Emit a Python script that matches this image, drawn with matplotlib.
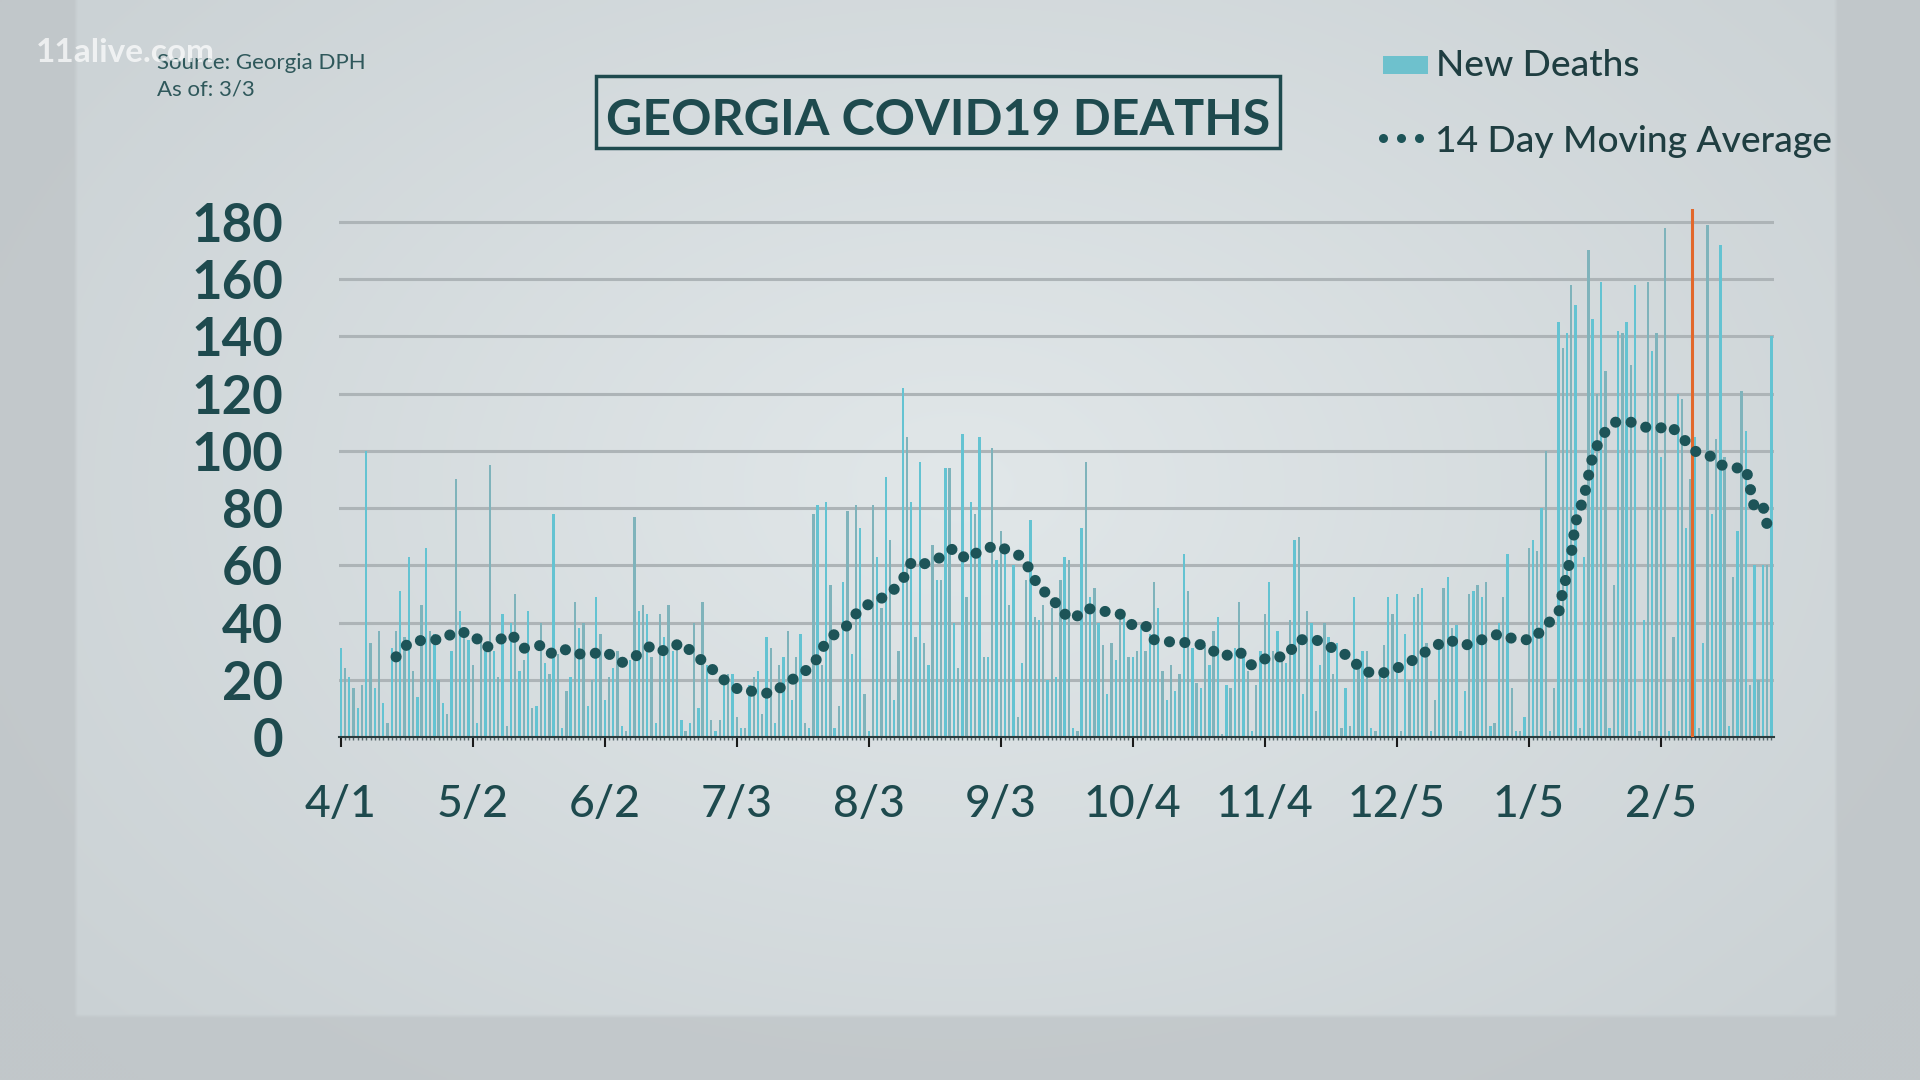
import numpy as np
import matplotlib
matplotlib.use("Agg")
import matplotlib.pyplot as plt
from matplotlib.patches import Rectangle
from matplotlib.lines import Line2D

# ---------------- data ----------------
# daily new deaths, 4/1 (day 0) through 3/2 (day 336)
new_deaths = [
    31, 24, 21, 17, 10, 18, 100, 33, 17, 37, 12, 5, 31, 37, 51, 35, 63, 23, 14, 46,
    66, 37, 36, 20, 12, 8, 30, 90, 44, 35, 34, 25, 5,
    34, 31, 95, 30, 21, 43, 4, 40, 50, 23, 27, 44, 10, 11, 40, 26, 22, 78, 29, 3,
    16, 21, 47, 38, 40, 11, 20, 49, 36, 13, 21, 24, 30, 4,
    2, 27, 77, 44, 46, 43, 28, 5, 43, 35, 46, 30, 31, 6, 2, 5, 40, 10, 47, 25,
    6, 2, 6, 20, 22, 22, 7, 3, 3, 18, 21, 23, 8, 35,
    31, 5, 25, 28, 37, 13, 28, 36, 5, 3, 78, 81, 25, 82, 53, 3, 11, 54, 79, 29,
    81, 73, 15, 2, 81, 63, 45, 91, 69, 13, 30, 122, 105, 82,
    35, 96, 33, 25, 67, 55, 55, 94, 94, 40, 24, 106, 49, 82, 78, 105, 28, 28, 101, 62,
    72, 64, 46, 60, 7, 26, 55, 76, 42, 41, 46, 20, 45, 21,
    55, 63, 62, 3, 2, 73, 96, 49, 52, 40, 32, 15, 33, 27, 44, 43, 28, 28, 30, 39,
    30, 36, 54, 45, 23, 13, 25, 16, 22, 64, 51, 31, 19, 17,
    32, 25, 37, 42, 1, 18, 17, 31, 47, 30, 23, 2, 18, 30, 43, 54, 30, 37, 28, 26,
    41, 69, 70, 15, 44, 40, 9, 25, 40, 35, 22, 33, 3, 17,
    4, 49, 24, 30, 30, 3, 2, 23, 32, 49, 43, 50, 2, 36, 20, 49, 50, 52, 33, 2,
    13, 32, 52, 56, 38, 39, 2, 16, 50, 51, 53, 49, 54, 4,
    5, 40, 49, 64, 17, 2, 2, 7, 66, 69, 65, 80, 100, 2, 17, 145, 136, 141, 158, 151,
    3, 63, 170, 146, 120, 159, 128, 3, 53, 142, 141, 145, 130, 158,
    2, 41, 159, 135, 141, 98, 178, 2, 35, 120, 118, 73, 90, 105, 3, 33, 179, 78, 104, 172,
    98, 4, 56, 72, 121, 107, 18, 60, 20, 60, 60, 140,
]
days = np.arange(len(new_deaths))

# 14 day moving average, read at these days
ma_days = [13, 16, 20, 24, 27, 31, 34, 36, 40, 43, 47, 49, 52, 55, 59, 62, 66, 69, 73, 76,
           80, 83, 87, 90, 94, 98, 101, 105, 108, 111, 113, 116, 119, 122, 125, 129, 132, 134,
           136, 140, 144, 147, 150, 154, 157, 160, 162, 164, 167, 169, 172, 175, 179, 183, 186,
           189, 191, 196, 199, 203, 207, 211, 214, 218, 222, 225, 229, 233, 237, 240, 244, 248,
           252, 256, 260, 264, 268, 272, 276, 280, 283, 286, 287, 288, 289, 290, 292, 293, 294,
           296, 299, 303, 307, 310, 312, 315, 317, 319, 322, 324, 325, 328, 330, 331, 332, 334,
           335, 336]
ma_values = [28, 33, 34, 34, 37, 36, 31, 33, 36, 31, 32, 29, 31, 29, 29, 30, 26, 28, 32, 30,
             33, 29, 24, 20, 16, 16, 15, 19, 22, 25, 31, 36, 39, 45, 47, 50, 55, 61,
             60, 62, 66, 62, 65, 67, 65, 63, 58, 52, 49, 44, 41, 45, 44, 43, 39,
             39, 34, 33, 33, 32, 28, 30, 25, 28, 28, 34, 34, 31, 28, 23, 22, 24,
             27, 31, 34, 32, 34, 36, 34, 34, 39, 43, 51, 57, 64, 75, 84, 91, 98,
             105, 110, 110, 108, 108, 109, 105, 101, 99, 98, 95, 95, 94, 94, 87, 80, 81,
             74, 77]

tick_days = [0, 31, 62, 93, 124, 155, 186, 217, 248, 279, 310]
tick_labels = ['4/1', '5/2', '6/2', '7/3', '8/3', '9/3', '10/4', '11/4', '12/5', '1/5', '2/5']
y_ticks = [0, 20, 40, 60, 80, 100, 120, 140, 160, 180]
marker_day = 317.4

# ---------------- style ----------------
TEAL = '#1e4a4e'
DOT = '#1d5458'
BAR_A = '#64c3d2'
BAR_B = '#7fb3bb'
W, H = 1920, 1080

fig = plt.figure(figsize=(19.2, 10.8), dpi=100)

# background gradient
bg = fig.add_axes([0, 0, 1, 1], zorder=-10)
gh, gw = 270, 480
yy, xx = np.mgrid[0:gh, 0:gw]
fx = (xx + 0.5) / gw
fy = (yy + 0.5) / gh  # from top
c_out = np.array([0xc1, 0xc7, 0xca]) / 255
c_edge = np.array([0xca, 0xd1, 0xd4]) / 255
c_cen = np.array([0xe1, 0xe7, 0xe9]) / 255
r = np.sqrt(((fx - 0.5) / 0.62) ** 2 + ((fy - 0.45) / 0.75) ** 2)
t = np.clip(1 - r, 0, 1)[..., None]
img = c_edge + (c_cen - c_edge) * t
inside = ((fx > 0.039) & (fx < 0.957) & (fy < 0.94))[..., None]
img = np.where(inside, img, c_out + (img - c_edge) * 0.3)
bg.imshow(img, extent=[0, 1, 0, 1], aspect='auto', interpolation='bilinear')
bg.set_axis_off()

# main axes
x0, x1 = 339, 1774
y0, ytop = 737, 209
ax = fig.add_axes([x0 / W, (H - y0) / H, (x1 - x0) / W, (y0 - ytop) / H])
ax.patch.set_alpha(0)
ax.set_xlim(-0.4, 336.6)
ax.set_ylim(0, 184.5)

colors = [BAR_A if i % 2 == 0 else BAR_B for i in range(len(new_deaths))]
ax.bar(days, new_deaths, width=0.55, color=colors, linewidth=0, zorder=2)

ax.axvline(marker_day, color='#e2682c', lw=2.2, zorder=3)

ax.plot(ma_days, ma_values, color=DOT, lw=8, linestyle=(0, (0.01, 1.38)),
        dash_capstyle='round', zorder=4)

ax.set_yticks(y_ticks)
ax.yaxis.grid(True, color='#adb4b7', lw=2.2, zorder=0)
ax.set_axisbelow(True)
for s in ['top', 'right', 'left']:
    ax.spines[s].set_visible(False)
ax.spines['bottom'].set_color('#2b3b3d')
ax.spines['bottom'].set_linewidth(1.5)

ax.set_xticks(tick_days)
ax.set_xticklabels(tick_labels)
ax.set_xticks(days, minor=True)
ax.tick_params(axis='x', which='major', length=7, width=1.5, color='#1a1a1a', pad=27,
               labelsize=32, labelcolor=TEAL)
ax.tick_params(axis='x', which='minor', length=2.5, width=1, color='#55666a')
ax.tick_params(axis='y', length=0, pad=40, labelsize=38, labelcolor=TEAL)
for lbl in ax.get_yticklabels():
    lbl.set_fontfamily('Lato')
    lbl.set_fontweight('bold')
for lbl in ax.get_xticklabels():
    lbl.set_fontfamily('Lato')
    lbl.set_fontweight('medium')

# title box
fig.add_artist(Rectangle((596 / W, 1 - 148 / H), 684 / W, 72 / H, transform=fig.transFigure,
                         fill=False, ec=TEAL, lw=2.5))
fig.text(938 / W, 1 - 135 / H, 'GEORGIA COVID19 DEATHS', ha='center', va='baseline',
         fontsize=36, fontweight='bold', family='Lato', color=TEAL)

# source text
fig.text(157 / W, 1 - 69 / H, 'Source: Georgia DPH', ha='left', va='baseline',
         fontsize=16, family='Lato', color='#2f585b')
fig.text(157 / W, 1 - 96 / H, 'As of: 3/3', ha='left', va='baseline',
         fontsize=16, family='Lato', color='#2f585b')
fig.text(36 / W, 1 - 62 / H, '11alive.com', ha='left', va='baseline',
         fontsize=24, fontweight='bold', family='Lato', color='white', alpha=0.7)

# legend
fig.add_artist(Rectangle((1383 / W, 1 - 74 / H), 45 / W, 18 / H, transform=fig.transFigure,
                         color='#6ec1cd', lw=0))
fig.text(1436 / W, 1 - 75.5 / H, 'New Deaths', ha='left', va='baseline',
         fontsize=26.7, family='Lato', fontweight='medium', color='#1f3e41')
fig.add_artist(Line2D([1383 / W, 1401 / W, 1419 / W], [1 - 138 / H] * 3, transform=fig.transFigure,
                      ls='none', marker='o', ms=6.5, color=DOT, mew=0))
fig.text(1435 / W, 1 - 152.5 / H, '14 Day Moving Average', ha='left', va='baseline',
         fontsize=26.7, family='Lato', fontweight='medium', color='#1f3e41')

fig.savefig('out.png', dpi=100)
